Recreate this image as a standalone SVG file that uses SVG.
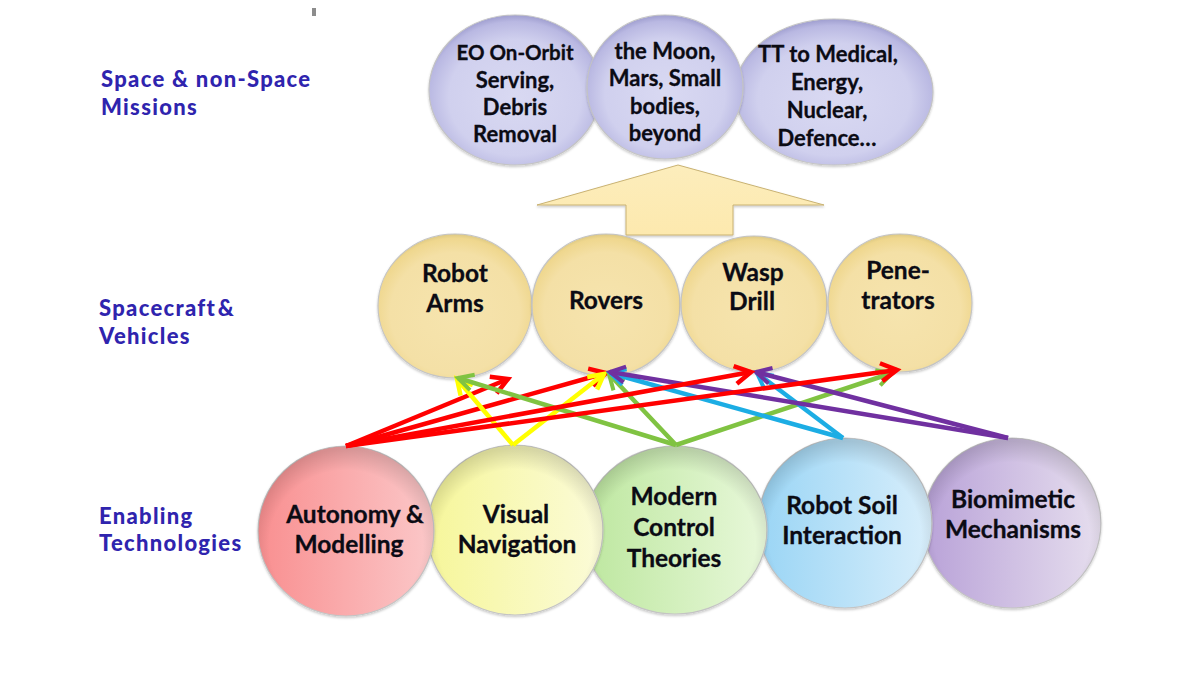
<svg xmlns="http://www.w3.org/2000/svg" width="1200" height="675" viewBox="0 0 1200 675">
<defs>
<radialGradient id="gv" cx=".5" cy=".55" r=".55"><stop offset="0" stop-color="#d9d9f2"/><stop offset=".7" stop-color="#d0d0ee"/><stop offset=".92" stop-color="#b9b8e2"/><stop offset="1" stop-color="#9f9ecf"/></radialGradient>
<radialGradient id="gt" cx=".5" cy=".55" r=".56"><stop offset="0" stop-color="#f6e4ae"/><stop offset=".75" stop-color="#f4e0a6"/><stop offset=".93" stop-color="#efd78e"/><stop offset="1" stop-color="#d6c37f"/></radialGradient>
<radialGradient id="sh" cx=".5" cy=".58" r=".56"><stop offset=".78" stop-color="#000" stop-opacity="0"/><stop offset="1" stop-color="#000" stop-opacity=".14"/></radialGradient>
<linearGradient id="gr" x1="0" x2="1"><stop offset="0" stop-color="#f98f90"/><stop offset="1" stop-color="#fbc8c9"/></linearGradient>
<linearGradient id="gy" x1="0" x2="1"><stop offset="0" stop-color="#f6f69a"/><stop offset="1" stop-color="#fbfbd8"/></linearGradient>
<linearGradient id="gg" x1="0" x2="1"><stop offset="0" stop-color="#bde79f"/><stop offset="1" stop-color="#e8f8da"/></linearGradient>
<linearGradient id="gb" x1="0" x2="1"><stop offset="0" stop-color="#9ad5f5"/><stop offset="1" stop-color="#d8eefb"/></linearGradient>
<linearGradient id="gp" x1="0" x2="1"><stop offset="0" stop-color="#b9a2d8"/><stop offset="1" stop-color="#e6deee"/></linearGradient>
<linearGradient id="ga" x1="0" x2="0" y1="0" y2="1"><stop offset="0" stop-color="#fcedbc"/><stop offset="1" stop-color="#fde9ae"/></linearGradient>
<filter id="ds" x="-10%" y="-10%" width="120%" height="120%"><feDropShadow dx="0" dy="1.5" stdDeviation="1.2" flood-color="#000" flood-opacity=".22"/></filter>
<marker id="ar" markerUnits="userSpaceOnUse" markerWidth="30" markerHeight="30" refX="24" refY="15" orient="auto"><path d="M8 6 L24 15 L8 24" fill="none" stroke="#ff0000" stroke-width="4.5"/></marker>
<marker id="ay" markerUnits="userSpaceOnUse" markerWidth="30" markerHeight="30" refX="24" refY="15" orient="auto"><path d="M9 7 L24 15 L9 23" fill="none" stroke="#ffff00" stroke-width="4.5"/></marker>
<marker id="ag" markerUnits="userSpaceOnUse" markerWidth="30" markerHeight="30" refX="24" refY="15" orient="auto"><path d="M9 7 L24 15 L9 23" fill="none" stroke="#80c342" stroke-width="4"/></marker>
<marker id="ab" markerUnits="userSpaceOnUse" markerWidth="30" markerHeight="30" refX="24" refY="15" orient="auto"><path d="M9 7 L24 15 L9 23" fill="none" stroke="#1cade4" stroke-width="4"/></marker>
<marker id="ap" markerUnits="userSpaceOnUse" markerWidth="30" markerHeight="30" refX="24" refY="15" orient="auto"><path d="M9 7 L24 15 L9 23" fill="none" stroke="#7030a0" stroke-width="4"/></marker>
</defs>
<style>
text{font-family:"Lato","Noto Sans",sans-serif;font-weight:700;text-anchor:middle;fill:#0b0b14;font-size:24.5px;stroke:#0b0b14;stroke-width:.3}
.top{font-size:22px}
.side{font-weight:900;text-anchor:start;fill:#2f24ae;stroke:none;font-size:22px;letter-spacing:1.3px}
ellipse{stroke:#c4c4c4;stroke-width:1.2;filter:url(#ds)}
.o{stroke:none;filter:none;fill:url(#sh)}
.c{fill:none;stroke-width:4.5}
</style>
<rect width="1200" height="675" fill="#ffffff"/>
<rect x="312" y="8" width="4" height="8" fill="#8c8c8c"/>
<g id="labels">
<text class="side" x="101" y="87">Space &amp; non-Space</text>
<text class="side" x="101" y="115">Missions</text>
<text class="side" x="99" y="316" word-spacing="-5">Spacecraft &amp;</text>
<text class="side" x="99" y="344">Vehicles</text>
<text class="side" x="99" y="524">Enabling</text>
<text class="side" x="99" y="551">Technologies</text>
</g>
<g id="n-orbit"><ellipse cx="515" cy="90" rx="86" ry="75" fill="url(#gv)"/><text class="top" x="515" y="60" font-size="21" style="font-size:20.5px">EO On-Orbit</text><text class="top" x="515" y="88">Serving,</text><text class="top" x="515" y="115">Debris</text><text class="top" x="515" y="142">Removal</text></g>
<g id="n-tt"><ellipse cx="834" cy="92" rx="99" ry="73" fill="url(#gv)"/><text class="top" x="828" y="62">TT to Medical,</text><text class="top" x="827" y="90">Energy,</text><text class="top" x="827" y="118">Nuclear,</text><text class="top" x="827" y="146">Defence…</text></g>
<g id="n-moon"><ellipse cx="665" cy="87" rx="78" ry="72" fill="url(#gv)"/><text class="top" x="665" y="59">the Moon,</text><text class="top" x="665" y="86">Mars, Small</text><text class="top" x="665" y="114">bodies,</text><text class="top" x="665" y="141">beyond</text></g>
<g id="up-arrow"><path d="M678 165 L824 205 L733 205 L733 235 L626 235 L626 205 L537 205 Z" fill="url(#ga)" stroke="#c9b272" stroke-width="1" filter="url(#ds)"/></g>
<g id="n-arms"><ellipse cx="455" cy="306" rx="77" ry="72" fill="url(#gt)"/><text x="455" y="282">Robot</text><text x="455" y="312">Arms</text></g>
<g id="n-rovers"><ellipse cx="606" cy="305" rx="74" ry="71" fill="url(#gt)"/><text x="606" y="309">Rovers</text></g>
<g id="n-drill"><ellipse cx="754" cy="304" rx="73" ry="68" fill="url(#gt)"/><text x="753" y="281">Wasp</text><text x="752" y="310">Drill</text></g>
<g id="n-pene"><ellipse cx="900" cy="303" rx="72" ry="69" fill="url(#gt)"/><text x="898" y="279">Pene-</text><text x="898" y="309">trators</text></g>
<g id="n-biomimetic"><ellipse cx="1012" cy="523" rx="89" ry="85" fill="url(#gp)"/><ellipse class="o" cx="1012" cy="523" rx="89" ry="85"/><text x="1013" y="508">Biomimetic</text><text x="1013" y="538">Mechanisms</text></g>
<g id="n-soil"><ellipse cx="845" cy="523" rx="87" ry="85" fill="url(#gb)"/><ellipse class="o" cx="845" cy="523" rx="87" ry="85"/><text x="842" y="514">Robot Soil</text><text x="842" y="544">Interaction</text></g>
<g id="n-control"><ellipse cx="675" cy="530" rx="92" ry="84" fill="url(#gg)"/><ellipse class="o" cx="675" cy="530" rx="92" ry="84"/><text x="674" y="505">Modern</text><text x="674" y="536">Control</text><text x="674" y="567">Theories</text></g>
<g id="n-visual"><ellipse cx="515" cy="530" rx="88" ry="85" fill="url(#gy)"/><ellipse class="o" cx="515" cy="530" rx="88" ry="85"/><text x="516" y="523">Visual</text><text x="517" y="553">Navigation</text></g>
<g id="n-auto"><ellipse cx="346" cy="531" rx="88" ry="85" fill="url(#gr)"/><ellipse class="o" cx="346" cy="531" rx="88" ry="85"/><text x="355" y="523">Autonomy &amp;</text><text x="349" y="553">Modelling</text></g>
<g id="connectors">
<path class="c" stroke="#ff0000" d="M346 446 L508 379" marker-end="url(#ar)"/>
<path class="c" stroke="#ff0000" d="M346 446 L606 373" marker-end="url(#ar)"/>
<path class="c" stroke="#ffff00" d="M513 445 L457 379" marker-end="url(#ay)"/>
<path class="c" stroke="#ffff00" d="M513 445 L604 374" marker-end="url(#ay)"/>
<path class="c" stroke="#80c342" d="M676 445 L458 378" marker-end="url(#ag)"/>
<path class="c" stroke="#80c342" d="M676 445 L609 374" marker-end="url(#ag)"/>
<path class="c" stroke="#80c342" d="M676 445 L892 373" marker-end="url(#ag)"/>
<path class="c" stroke="#1cade4" d="M843 438 L610 373" marker-end="url(#ab)"/>
<path class="c" stroke="#1cade4" d="M843 438 L757 373" marker-end="url(#ab)"/>
<path class="c" stroke="#7030a0" d="M1008 438 L610 372" marker-end="url(#ap)"/>
<path class="c" stroke="#7030a0" d="M1008 438 L756 372" marker-end="url(#ap)"/>
<path class="c" stroke="#ff0000" d="M346 446 L751 372" marker-end="url(#ar)"/>
<path class="c" stroke="#ff0000" d="M346 446 L897 370" marker-end="url(#ar)"/>
</g>
</svg>
